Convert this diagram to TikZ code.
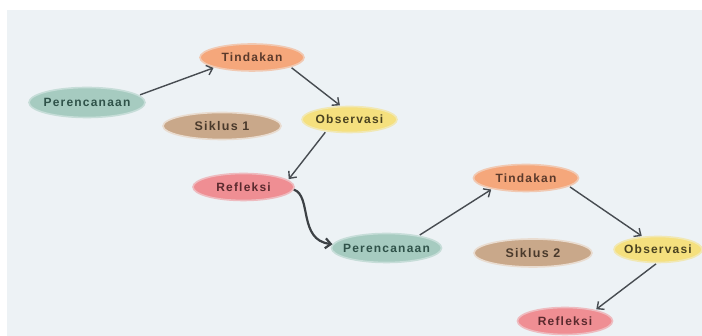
\documentclass[tikz,border=0pt]{standalone}
\usepackage{fontspec}
\setmainfont{Liberation Sans}
\usetikzlibrary{shapes.geometric,arrows.meta}
\definecolor{bg}{HTML}{EDF2F5}
\definecolor{cPer}{HTML}{A6CBC0}
\definecolor{cTin}{HTML}{F5A77B}
\definecolor{cSik}{HTML}{C9A88A}
\definecolor{cObs}{HTML}{F5E07E}
\definecolor{cRef}{HTML}{EF8E93}
\definecolor{tPer}{HTML}{2F5249}
\definecolor{tTin}{HTML}{5B3A2B}
\definecolor{tSik}{HTML}{4A3A2C}
\definecolor{tObs}{HTML}{4A4220}
\definecolor{tRef}{HTML}{5A2A2E}
\definecolor{arr}{HTML}{474C51}
\newfontfamily\lblfont[LetterSpace=10]{Liberation Sans Bold}
\tikzset{
  bub/.style={ellipse, inner xsep=-25pt, inner ysep=-6pt, font=\lblfont\fontsize{12}{14}\selectfont, line width=1.6pt},
  per/.style={bub, fill=cPer, draw=cPer!55!bg, text=tPer},
  tin/.style={bub, fill=cTin, draw=cTin!55!bg, text=tTin},
  sik/.style={bub, fill=cSik, draw=cSik!40!white, text=tSik, font=\lblfont\fontsize{12.5}{14}\selectfont},
  obs/.style={bub, fill=cObs, draw=cObs!55!bg, text=tObs},
  ref/.style={bub, fill=cRef, draw=cRef!55!bg, text=tRef},
  link/.style={draw=arr, line width=1.4pt, -{Straight Barb[length=5.5pt,width=10pt,line width=1.4pt]}, shorten <=1pt, shorten >=1pt},
  biglink/.style={draw=arr!85!black, line width=2.2pt, -{Straight Barb[length=5.5pt,width=10pt,line width=2.2pt]}}
}
\begin{document}
\begin{tikzpicture}[x=1pt,y=1pt]
\useasboundingbox (0,0) rectangle (702,336);
\fill[white] (0,0) rectangle (702,336);
\fill[bg] (7,0) rectangle (702,326);
% cycle 1
\node[per, minimum width=116pt, minimum height=30pt] (p1) at (87,233.5) {Perencanaan};
\node[tin, minimum width=104pt, minimum height=27pt] (t1) at (252,278.5) {Tindakan};
\node[sik, minimum width=118pt, minimum height=27pt] (s1) at (222,210) {Siklus 1};
\node[obs, minimum width=95pt, minimum height=26pt] (o1) at (349.5,216.5) {Observasi};
\node[ref, minimum width=101pt, minimum height=27pt] (r1) at (243.5,149) {Refleksi};
% cycle 2
\node[per, minimum width=110pt, minimum height=29pt] (p2) at (386.5,88) {Perencanaan};
\node[tin, minimum width=105pt, minimum height=27pt] (t2) at (526,158) {Tindakan};
\node[sik, minimum width=118pt, minimum height=28pt] (s2) at (533,83) {Siklus 2};
\node[obs, minimum width=88pt, minimum height=26pt] (o2) at (658,86.5) {Observasi};
\node[ref, minimum width=95pt, minimum height=27pt] (r2) at (565,15) {Refleksi};
% connectors
\draw[link] (p1.8) -- (t1.195);
\draw[link] (t1.-14) -- (o1.123);
\draw[link] (o1.207) -- (r1.9);
\draw[biglink] (r1.-3) .. controls (312,140) and (298,96) .. (p2.176);
\draw[link] (p2.21) -- (t2.198);
\draw[link] (t2.-11) -- (o2.140);
\draw[link] (o2.-95) -- (r2.20);
\end{tikzpicture}
\end{document}
